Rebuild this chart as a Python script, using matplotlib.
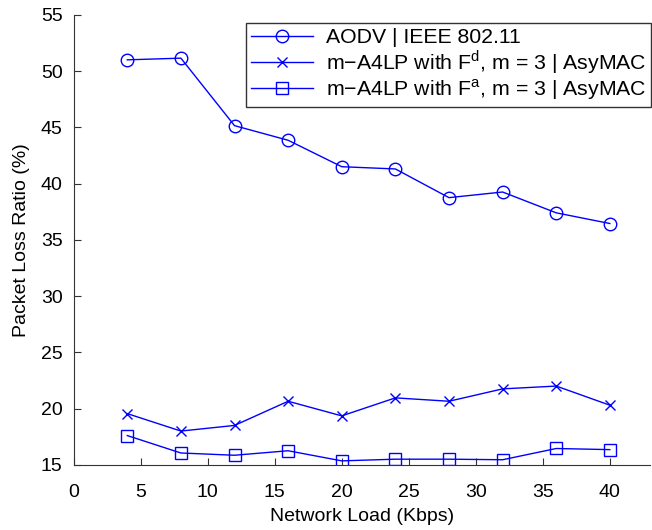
import matplotlib
matplotlib.use("Agg")
import matplotlib.pyplot as plt

plt.rcParams['font.family'] = ['Liberation Sans', 'DejaVu Sans']
plt.rcParams['mathtext.fontset'] = 'custom'
plt.rcParams['mathtext.rm'] = 'Liberation Sans'

load = [4, 8, 12, 16, 20, 24, 28, 32, 36, 40]
aodv = [51.0, 51.15, 45.15, 43.85, 41.5, 41.3, 38.75, 39.25, 37.4, 36.45]
fd = [19.55, 18.0, 18.5, 20.65, 19.35, 20.95, 20.65, 21.75, 22.0, 20.3]
fa = [17.6, 16.05, 15.85, 16.25, 15.35, 15.5, 15.5, 15.45, 16.45, 16.35]

labels = ['AODV | IEEE 802.11',
          'm\u2212A4LP with F$^{\\rm d}$, m = 3 | AsyMAC',
          'm\u2212A4LP with F$^{\\rm a}$, m = 3 | AsyMAC']

blue = '#0000ff'

fig = plt.figure(figsize=(6.52, 5.30), dpi=100)
ax = fig.add_axes([0.113, 0.123, 0.884, 0.849])

ax.plot(load, aodv, '-o', color=blue, lw=1, ms=9, mfc='none', mew=1, label=labels[0])
ax.plot(load, fd, '-x', color=blue, lw=1, ms=7, mew=1, label=labels[1])
ax.plot(load, fa, '-s', color=blue, lw=1, ms=8, mfc='none', mew=1, label=labels[2])

ax.set_xlim(0, 43)
ax.set_ylim(15, 55)
ax.set_xticks(range(0, 45, 5))
ax.set_yticks(range(15, 60, 5))
ax.spines['top'].set_visible(False)
ax.spines['right'].set_visible(False)
for s in ['left', 'bottom']:
    ax.spines[s].set_color('#333333')
ax.tick_params(direction='in', length=5, labelsize=14, colors='#333333', labelcolor='black')
ax.tick_params(axis='x', pad=14)
ax.tick_params(axis='y', pad=8)

ax.set_xlabel('Network Load (Kbps)', fontsize=14, labelpad=5)
ax.set_ylabel('Packet Loss Ratio (%)', fontsize=14, labelpad=8)

leg = ax.legend(loc='upper right', bbox_to_anchor=(0.999, 0.957), bbox_transform=fig.transFigure,
                fontsize=15.3, frameon=True, fancybox=False, borderpad=0.25, labelspacing=0.05,
                handlelength=2.9, handletextpad=0.6, borderaxespad=0)
leg.get_frame().set_edgecolor('black')
leg.get_frame().set_linewidth(1)

fig.savefig('out.png', dpi=100)
